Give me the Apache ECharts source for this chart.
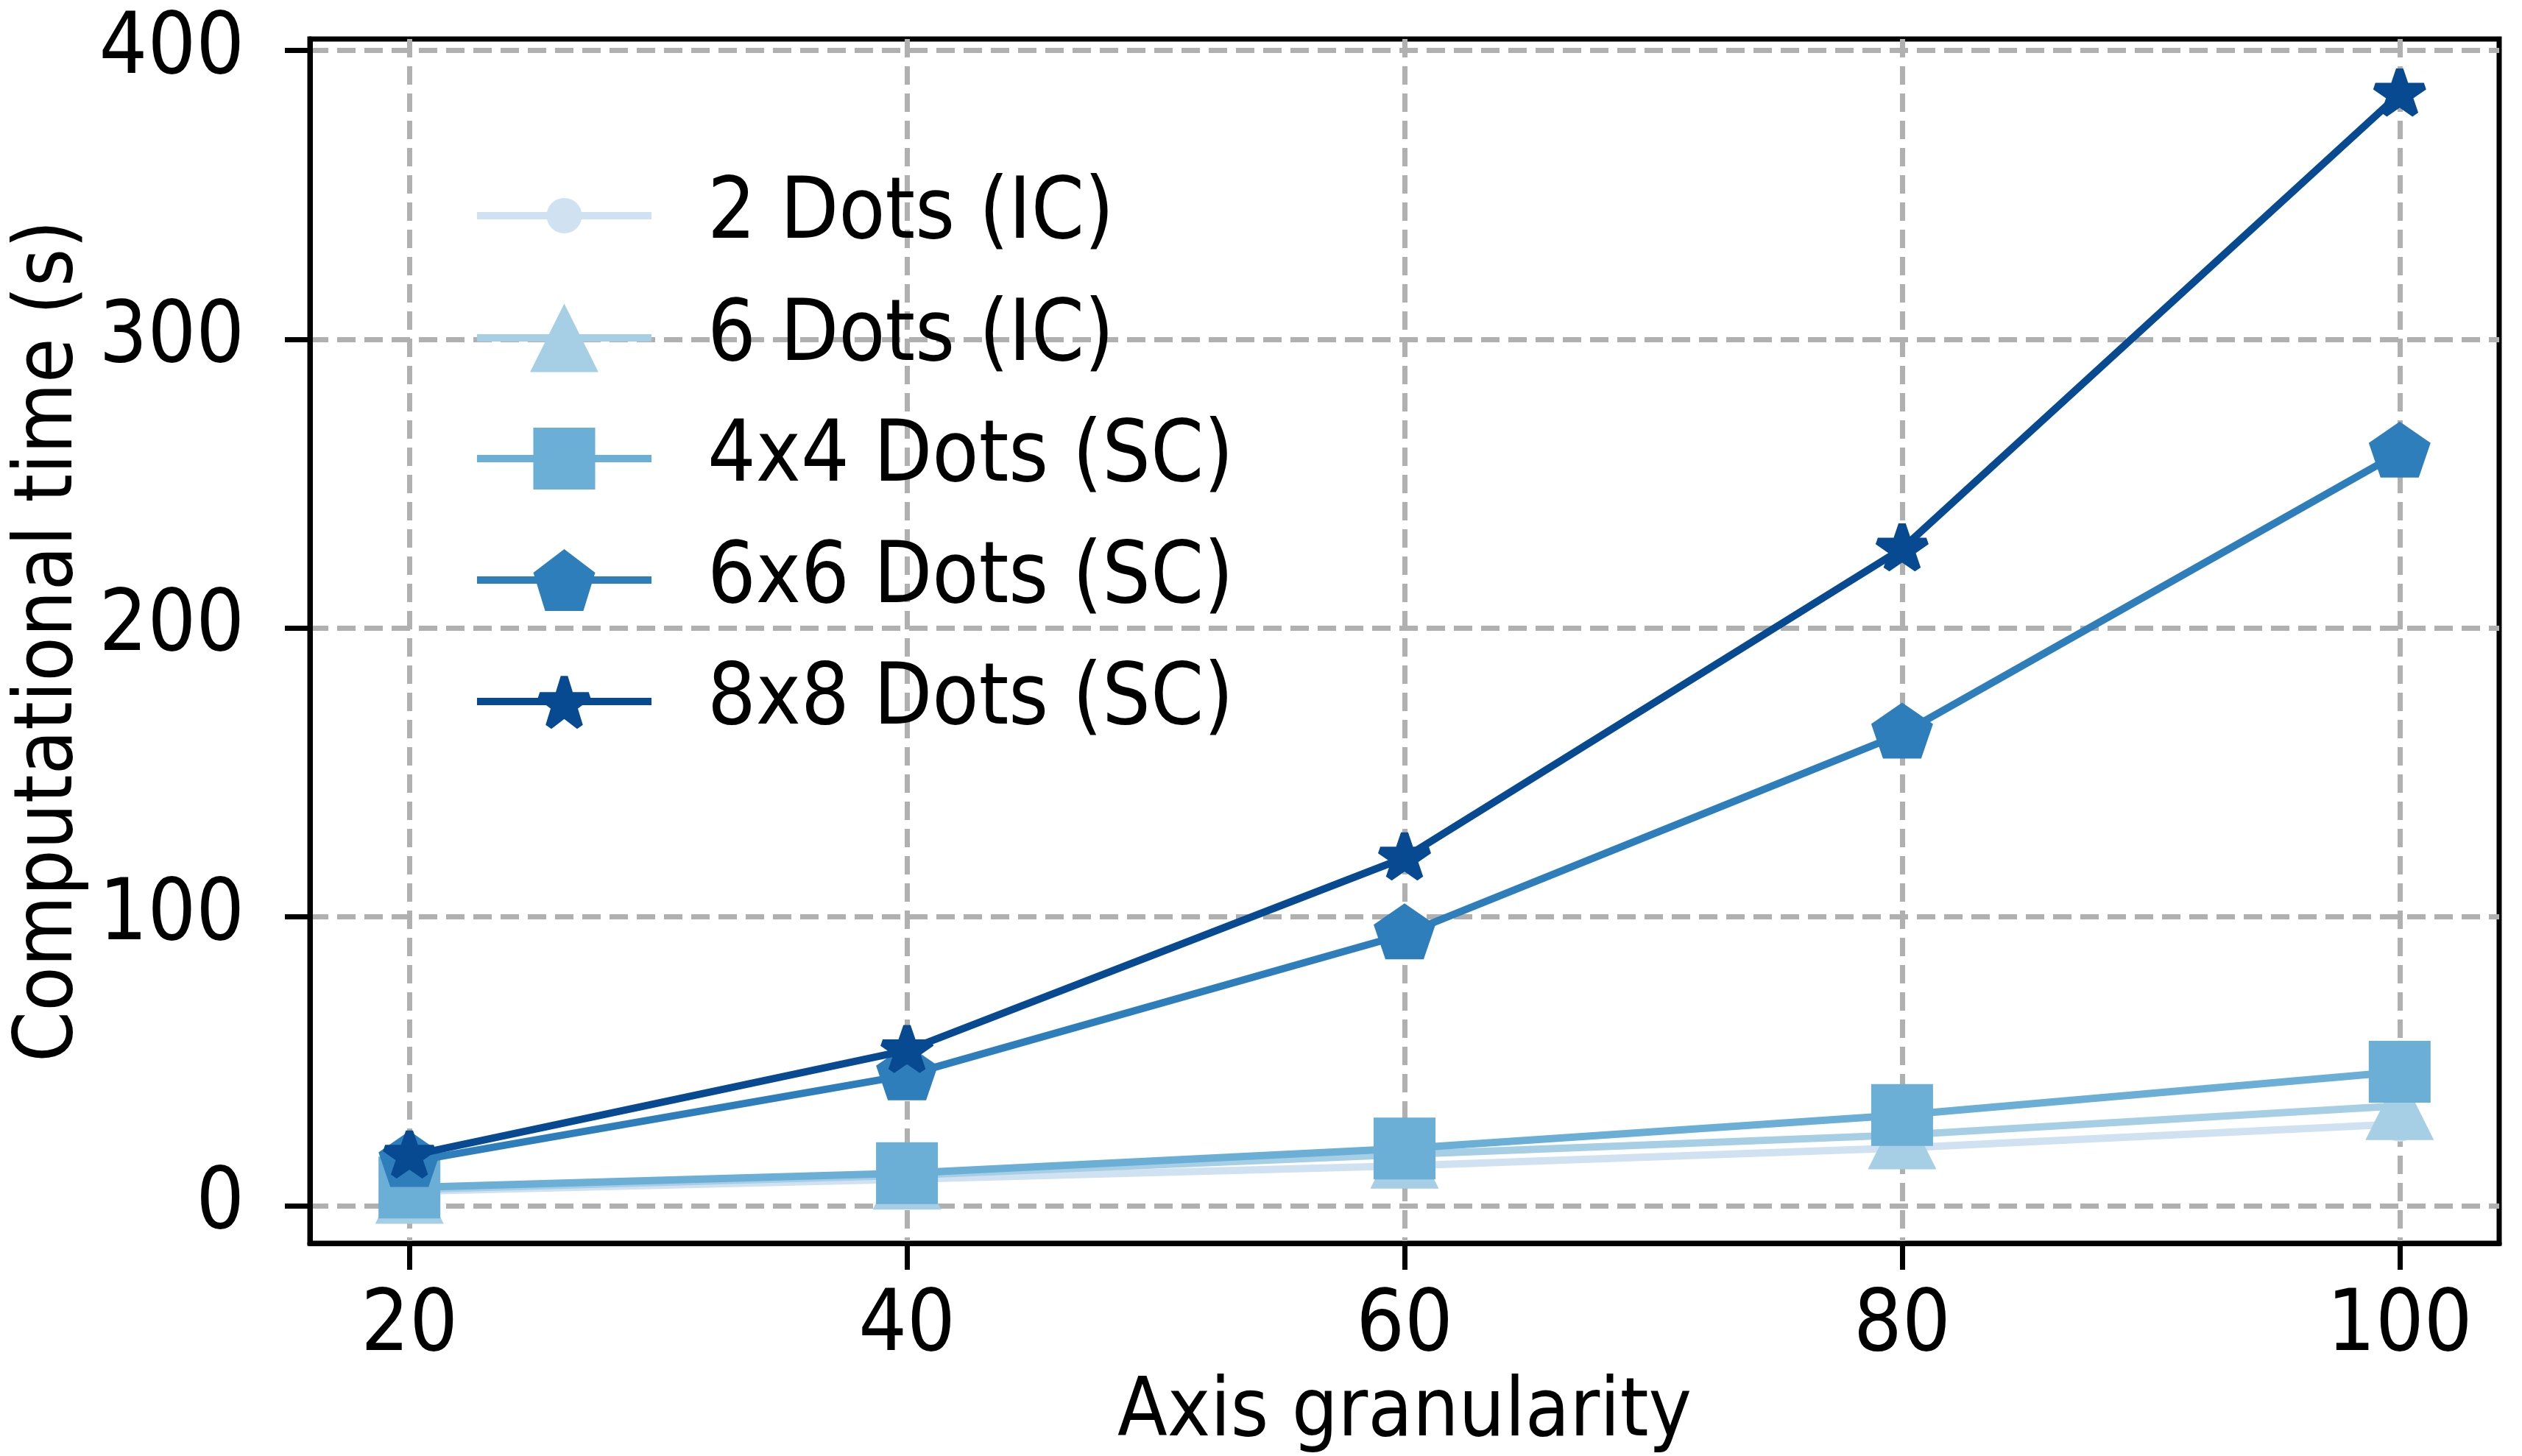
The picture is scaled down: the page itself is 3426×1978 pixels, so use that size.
<!DOCTYPE html>
<html>
<head>
<meta charset="utf-8">
<script src="https://cdn.jsdelivr.net/npm/echarts@6/dist/echarts.min.js"></script>
<style>
  html, body { margin: 0; padding: 0; background: #ffffff; }
  #chart { width: 3426px; height: 1978px; }
</style>
</head>
<body>
<div id="chart"></div>
<script>
// ---- data ----
const xValues = [20, 40, 60, 80, 100];
const seriesNames = ['2 Dots (IC)', '6 Dots (IC)', '4x4 Dots (SC)', '6x6 Dots (SC)', '8x8 Dots (SC)'];
const dots2IC  = [5.0, 9.2, 13.8, 20.0, 28.3];
const dots6IC  = [5.6, 10.5, 17.8, 24.5, 34.6];
const dots4x4SC = [6.3, 11.3, 19.8, 31.4, 46.4];
const dots6x6SC = [15.2, 45.2, 94.0, 163.5, 260.8];
const dots8x8SC = [17.3, 53.8, 120.5, 227.5, 385.0];
const xTicks = [20, 40, 60, 80, 100];
const yTicks = [0, 100, 200, 300, 400];
const xAxisTitle = 'Axis granularity';
const yAxisTitle = 'Computational time (s)';

// ---- styling ----
const FONT = '"DejaVu Sans Condensed", "DejaVu Sans", sans-serif';
const FS = 115;
const NAME_FS = 110;
const colors = ['#d0e1f2', '#a6cee4', '#6baed6', '#2f7ebc', '#084a91'];
const starPath = 'path://M100,0 L122.45,69.1 L195.11,69.1 L136.33,111.8 L158.78,180.9 L100,138.2 L41.22,180.9 L63.67,111.8 L4.89,69.1 L77.55,69.1 Z';
const pentPath = 'path://M100,0 L195.11,69.1 L158.78,180.9 L41.22,180.9 L4.89,69.1 Z';
const symbols = ['circle', 'triangle', 'rect', pentPath, starPath];
const symbolSizes = [48, [93, 93], [84, 84], [84, 80], [66, 63]];
const symbolOffsets = [[0, 0], [0, 0], [0, 0], [0, -4], [0, -3]];
const borderWidths = [0, 0, 0, 0, 10];
const legendItemHeights = [60, 116, 105, 105, 83];
const legendLineY = [293, 459, 623, 788, 953];
const allValues = [dots2IC, dots6IC, dots4x4SC, dots6x6SC, dots8x8SC];

const series = allValues.map((vals, i) => ({
  name: seriesNames[i],
  type: 'line',
  data: xValues.map((x, j) => [x, vals[j]]),
  symbol: symbols[i],
  symbolSize: symbolSizes[i],
  symbolOffset: symbolOffsets[i],
  symbolKeepAspect: true,
  showSymbol: true,
  showAllSymbol: true,
  lineStyle: { color: colors[i], width: 10 },
  itemStyle: { color: colors[i], borderColor: colors[i], borderWidth: borderWidths[i], borderJoin: 'bevel' },
  emphasis: { disabled: true },
  z: 2 + i
}));

const legends = seriesNames.map((name, i) => ({
  data: [name],
  left: 643,
  top: legendLineY[i] - 68.5,
  orient: 'vertical',
  padding: 0,
  itemWidth: 237,
  itemHeight: legendItemHeights[i],
  selectedMode: false,
  symbolKeepAspect: true,
  lineStyle: { width: 10 },
  itemStyle: { borderColor: colors[i], borderWidth: borderWidths[i], borderJoin: 'bevel' },
  textStyle: {
    fontFamily: FONT, fontSize: FS, color: '#000', lineHeight: FS,
    padding: [0, 0, 22, 71]
  }
}));

const chart = echarts.init(document.getElementById('chart'), null, { renderer: 'canvas' });
chart.setOption({
  animation: false,
  backgroundColor: '#ffffff',
  grid: {
    left: 421, right: 31, top: 53, bottom: 289,
    containLabel: false,
    outerBoundsMode: 'none',
    show: true, borderColor: '#000', borderWidth: 7, backgroundColor: 'transparent'
  },
  legend: legends,
  xAxis: {
    type: 'value', min: 16, max: 104,
    name: xAxisTitle, nameLocation: 'middle', nameGap: 163,
    nameTextStyle: { fontFamily: FONT, fontSize: NAME_FS, color: '#000' },
    axisLine: { show: true, onZero: false, lineStyle: { color: '#000', width: 7 } },
    axisTick: { show: true, inside: false, length: 36, customValues: xTicks, lineStyle: { color: '#000', width: 7 } },
    axisLabel: { show: true, customValues: xTicks, margin: 58, fontFamily: FONT, fontSize: FS, color: '#000' },
    splitLine: { show: true, lineStyle: { color: '#b0b0b0', width: 7, type: [25, 12] } }
  },
  yAxis: {
    type: 'value', min: -13, max: 404,
    name: yAxisTitle, nameLocation: 'middle', nameGap: 263, nameRotate: 90,
    nameTextStyle: { fontFamily: FONT, fontSize: NAME_FS, color: '#000' },
    axisLine: { show: true, onZero: false, lineStyle: { color: '#000', width: 7 } },
    axisTick: { show: true, inside: false, length: 34, customValues: yTicks, lineStyle: { color: '#000', width: 7 } },
    axisLabel: { show: true, customValues: yTicks, margin: 89, fontFamily: FONT, fontSize: FS, color: '#000', padding: [0, 0, 26, 0] },
    splitLine: { show: true, lineStyle: { color: '#b0b0b0', width: 7, type: [25, 12] } }
  },
  series: series
});
</script>
</body>
</html>
